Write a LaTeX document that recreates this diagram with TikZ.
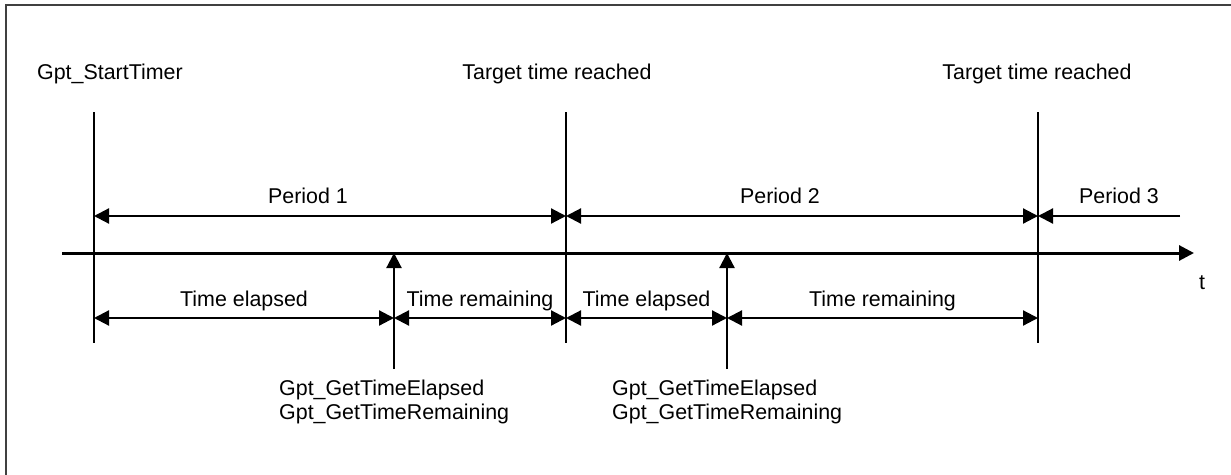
\documentclass[tikz,border=0pt]{standalone}
\usepackage{fontspec}
\setmainfont{Liberation Sans}
\usetikzlibrary{arrows.meta}
\tikzset{>={Triangle[width=15pt,length=15pt]}}
\tikzset{
  markline/.style={line width=1.8pt},
  span/.style={<->, line width=2.2pt},
  lbl/.style={inner sep=0pt, anchor=base},
}

\begin{document}
\begin{tikzpicture}[x=1pt,y=-1pt]

  \fontsize{21.4pt}{24pt}\selectfont

  \useasboundingbox (0,0) rectangle (1231,474);
  \draw[line width=2pt, black!75] (6,5) rectangle (1250,490);

  % event columns: t=top, p=period, a=axis, l=lower, b=bottom
  \foreach \x/\n in {94/s0, 566/s1, 1038/s2}{
    \coordinate (\n t) at (\x,112);
    \coordinate (\n p) at (\x,216);
    \coordinate (\n a) at (\x,253);
    \coordinate (\n l) at (\x,318);
    \coordinate (\n b) at (\x,343);
  }
  % query columns: a=axis, l=lower, f=foot
  \foreach \x/\n in {394/q1, 727/q2}{
    \coordinate (\n a) at (\x,253);
    \coordinate (\n l) at (\x,318);
    \coordinate (\n f) at (\x,369);
  }
  \coordinate (ax0) at (62,253);
  \coordinate (ax1) at (1194,253);
  \coordinate (e3) at (1180,216);

  % time axis
  \draw[->, line width=3pt] (ax0) -- (ax1);
  \node[lbl, anchor=base west] (tlbl) at (1199,289) {t};

  % event lines
  \draw[markline] (s0t) -- (s0b);
  \draw[markline] (s1t) -- (s1b);
  \draw[markline] (s2t) -- (s2b);

  \node[lbl, anchor=base west] (start) at (37,79) {Gpt\_StartTimer};
  \node[lbl] (reach1) at (557,79) {Target time reached};
  \node[lbl] (reach2) at (1037,79) {Target time reached};

  % periods
  \draw[span] (s0p) -- (s1p); % period 1
  \draw[span] (s1p) -- (s2p); % period 2
  \draw[->, line width=2.2pt] (e3) -- (s2p); % period 3
  \node[lbl] (per1) at (308,203) {Period 1};
  \node[lbl] (per2) at (780,203) {Period 2};
  \node[lbl] (per3) at (1119,203) {Period 3};

  % elapsed / remaining
  \draw[span] (s0l) -- node[lbl, yshift=12pt] (el1) {Time elapsed} (q1l);
  \draw[span] (q1l) -- node[lbl, yshift=12pt] (re1) {Time remaining} (s1l);
  \draw[span] (s1l) -- node[lbl, yshift=12pt] (el2) {Time elapsed} (q2l);
  \draw[span] (q2l) -- node[lbl, yshift=12pt] (re2) {Time remaining} (s2l);

  % queries
  \draw[->, line width=2.2pt] (q1f) -- (q1a);
  \draw[->, line width=2.2pt] (q2f) -- (q2a);
  \node[lbl, anchor=base west] (ge1) at ([xshift=-115pt, yshift=-26pt]q1f) {Gpt\_GetTimeElapsed};
  \node[lbl, anchor=base west] (gr1) at ([xshift=-115pt, yshift=-50pt]q1f) {Gpt\_GetTimeRemaining};
  \node[lbl, anchor=base west] (ge2) at ([xshift=-115pt, yshift=-26pt]q2f) {Gpt\_GetTimeElapsed};
  \node[lbl, anchor=base west] (gr2) at ([xshift=-115pt, yshift=-50pt]q2f) {Gpt\_GetTimeRemaining};

\end{tikzpicture}
\end{document}
